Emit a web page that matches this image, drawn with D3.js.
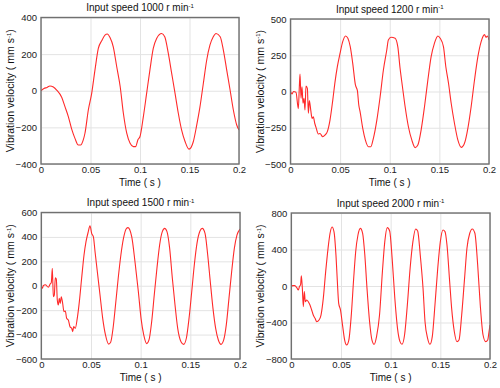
<!DOCTYPE html>
<html><head><meta charset="utf-8">
<script src="https://cdn.jsdelivr.net/npm/d3@7"></script>
<style>
html,body{margin:0;padding:0;background:#fff;}
svg{display:block;font-family:"Liberation Sans",Arial,sans-serif;}
</style></head>
<body>
<svg id="chart" width="500" height="388"></svg>
<script>
// ---- data ----
const speeds = [1000, 1200, 1500, 2000];
const xTicks = [0, 0.05, 0.1, 0.15, 0.2];
const xTickLabels = ["0", "0.05", "0.1", "0.15", "0.2"];
const yTicks1000 = [-400, -200, 0, 200, 400];
const yTicks1200 = [-500, -250, 0, 250, 500];
const yTicks1500 = [-600, -400, -200, 0, 200, 400, 600];
const yTicks2000 = [-800, -400, 0, 400, 800];

// [time (s), vibration velocity (mm/s)]
const speed1000 = [[0,0],[0.003,12],[0.006,18],[0.009,26],[0.0125,20],[0.0158,4],[0.0209,-36],[0.0242,-87],[0.0276,-141],[0.031,-210],[0.0343,-260],[0.0377,-296],[0.040,-296],[0.0427,-268],[0.0444,-232],[0.0478,-105],[0.0512,-14],[0.0545,113],[0.0579,231],[0.0613,273],[0.0646,304],[0.067,310],[0.0697,291],[0.073,240],[0.0765,131],[0.080,22],[0.0832,-123],[0.0866,-232],[0.090,-287],[0.0933,-305],[0.0955,-305],[0.098,-266],[0.1,-250],[0.1034,-141],[0.1067,-14],[0.110,113],[0.1134,231],[0.1168,286],[0.1219,313],[0.125,295],[0.1286,204],[0.132,95],[0.1354,-14],[0.1387,-123],[0.142,-214],[0.1455,-277],[0.1495,-319],[0.1539,-277],[0.157,-196],[0.1606,-87],[0.164,41],[0.1674,168],[0.1707,250],[0.174,295],[0.1768,313],[0.181,295],[0.1842,222],[0.1876,113],[0.191,4],[0.1943,-105],[0.1977,-187],[0.2,-214]];

const speed1200 = [[0,0],[0.0015,-17],[0.003,0],[0.0055,-5],[0.0079,-118],[0.0089,33],[0.0096,121],[0.0106,-47],[0.0116,33],[0.0126,-81],[0.0136,-47],[0.0146,-128],[0.0156,38],[0.017,22],[0.018,-150],[0.019,-63],[0.0204,-128],[0.0217,-185],[0.023,-175],[0.0244,-219],[0.0257,-247],[0.028,-293],[0.0297,-290],[0.0325,-312],[0.0348,-300],[0.0371,-277],[0.0398,-197],[0.0426,-59],[0.0449,68],[0.0472,171],[0.0499,263],[0.0526,344],[0.0555,383],[0.0578,367],[0.0602,309],[0.0627,194],[0.0654,45],[0.0674,6],[0.0688,-93],[0.0701,-139],[0.0728,-254],[0.0754,-334],[0.0785,-381],[0.0809,-381],[0.0835,-323],[0.087,-197],[0.0903,-36],[0.0936,148],[0.097,286],[0.0986,355],[0.1014,374],[0.1054,367],[0.1081,309],[0.1104,160],[0.1128,33],[0.1155,-105],[0.1188,-243],[0.1222,-334],[0.1256,-387],[0.1283,-369],[0.1316,-266],[0.135,-105],[0.1384,79],[0.1417,240],[0.145,332],[0.1485,383],[0.1508,367],[0.1541,309],[0.1565,171],[0.1592,57],[0.1619,-81],[0.1652,-219],[0.1686,-334],[0.172,-385],[0.1753,-357],[0.1787,-254],[0.182,-105],[0.1854,79],[0.1888,240],[0.1921,344],[0.1955,392],[0.197,374],[0.1985,383],[0.2,355]];

const speed1500 = [[0,-8],[0.001,-21],[0.002,0],[0.004,8],[0.0071,-12],[0.0088,12],[0.0101,28],[0.0111,143],[0.0121,-90],[0.0131,-76],[0.0141,66],[0.0151,55],[0.0161,-117],[0.0171,-158],[0.0181,-103],[0.0191,-144],[0.0201,-90],[0.0215,-144],[0.0228,-212],[0.0242,-207],[0.0255,-267],[0.0272,-281],[0.0289,-335],[0.0306,-349],[0.0316,-376],[0.0326,-335],[0.0342,-349],[0.0362,-267],[0.0383,-130],[0.0406,61],[0.043,252],[0.045,361],[0.0473,443],[0.049,492],[0.0507,429],[0.0524,402],[0.0541,279],[0.0564,115],[0.0591,-76],[0.0618,-267],[0.0646,-403],[0.0678,-478],[0.0698,-463],[0.0722,-349],[0.0747,-158],[0.0774,61],[0.0801,252],[0.0827,388],[0.0858,470],[0.0872,476],[0.091,402],[0.0943,197],[0.0977,-49],[0.1004,-267],[0.1031,-403],[0.1061,-474],[0.1084,-444],[0.1111,-294],[0.1137,-76],[0.1164,143],[0.1191,334],[0.1218,443],[0.1242,470],[0.1265,443],[0.1292,306],[0.1319,61],[0.1346,-158],[0.1373,-349],[0.1406,-458],[0.1433,-480],[0.146,-430],[0.1487,-267],[0.1514,-49],[0.154,170],[0.1567,347],[0.1597,448],[0.162,470],[0.1648,429],[0.1675,252],[0.1701,33],[0.1728,-185],[0.1755,-349],[0.1782,-444],[0.1809,-480],[0.1836,-444],[0.1862,-321],[0.1889,-103],[0.1916,115],[0.1943,306],[0.197,416],[0.2,465]];

const speed2000 = [[0,-7],[0.0015,4],[0.0035,4],[0.0055,-18],[0.0071,-44],[0.0082,-7],[0.0094,18],[0.0101,113],[0.0111,-22],[0.0121,-226],[0.0131,-62],[0.0141,-172],[0.0155,-154],[0.0171,-172],[0.0188,-208],[0.0205,-263],[0.0221,-318],[0.0239,-354],[0.0256,-391],[0.0279,-373],[0.0299,-318],[0.0322,-135],[0.0346,157],[0.037,413],[0.039,578],[0.041,647],[0.043,594],[0.045,330],[0.0463,60],[0.0477,-190],[0.0495,-262],[0.0517,-440],[0.0537,-592],[0.0557,-645],[0.0579,-592],[0.0603,-330],[0.0628,84],[0.0648,376],[0.0671,559],[0.0695,632],[0.0718,578],[0.074,340],[0.0762,-26],[0.0788,-391],[0.0812,-592],[0.0835,-639],[0.0858,-555],[0.0888,-318],[0.0917,157],[0.0941,486],[0.0966,640],[0.099,603],[0.1015,303],[0.1042,-135],[0.1069,-464],[0.1094,-610],[0.1114,-639],[0.114,-537],[0.1168,-208],[0.1196,194],[0.1224,486],[0.1252,625],[0.1272,603],[0.1298,340],[0.1326,-26],[0.1346,-391],[0.1372,-574],[0.1396,-639],[0.1419,-555],[0.1446,-208],[0.1474,194],[0.15,486],[0.1527,614],[0.1547,596],[0.1567,449],[0.1594,47],[0.1614,-245],[0.1641,-501],[0.1668,-610],[0.1688,-592],[0.1715,-318],[0.1744,84],[0.1768,413],[0.1796,578],[0.1822,625],[0.1848,578],[0.1876,230],[0.1902,-208],[0.193,-537],[0.1957,-610],[0.1977,-592],[0.199,-501],[0.2,-428]];

// ---- layout (positions kept separate from data) ----
const panels = [
  {speed: speeds[0], data: speed1000, yTicks: yTicks1000, x0: 41,    x1: 239, y0: 17.5, y1: 164},
  {speed: speeds[1], data: speed1200, yTicks: yTicks1200, x0: 290.5, x1: 489, y0: 19,   y1: 164},
  {speed: speeds[2], data: speed1500, yTicks: yTicks1500, x0: 41.3,  x1: 240, y0: 212.5,y1: 359},
  {speed: speeds[3], data: speed2000, yTicks: yTicks2000, x0: 291.3, x1: 490, y0: 213,  y1: 359}
];

const svg = d3.select("#chart");
const FS = 10;

panels.forEach(p => {
  const yMin = d3.min(p.yTicks), yMax = d3.max(p.yTicks);
  const x = d3.scaleLinear().domain([0, 0.2]).range([p.x0, p.x1]);
  const y = d3.scaleLinear().domain([yMin, yMax]).range([p.y1, p.y0]);
  const g = svg.append("g");

  // grid
  g.append("g").attr("transform", `translate(0,${p.y1})`)
    .call(d3.axisBottom(x).tickValues(xTicks).tickSize(-(p.y1 - p.y0)).tickFormat(""))
    .call(a => a.select(".domain").remove())
    .call(a => a.selectAll("line").attr("stroke", "#e3e3e3").attr("stroke-width", 1));
  g.append("g").attr("transform", `translate(${p.x0},0)`)
    .call(d3.axisLeft(y).tickValues(p.yTicks).tickSize(-(p.x1 - p.x0)).tickFormat(""))
    .call(a => a.select(".domain").remove())
    .call(a => a.selectAll("line").attr("stroke", "#e3e3e3").attr("stroke-width", 1));

  // tick labels via axes
  g.append("g").attr("transform", `translate(0,${p.y1})`)
    .call(d3.axisBottom(x).tickValues(xTicks).tickSize(0).tickPadding(2)
      .tickFormat((d, i) => xTickLabels[i]))
    .call(a => a.select(".domain").remove())
    .call(a => a.selectAll("text").attr("font-size", 9.5).attr("fill", "#222")
      .attr("font-family", "Liberation Sans, Arial, sans-serif"));
  g.append("g").attr("transform", `translate(${p.x0},0)`)
    .call(d3.axisLeft(y).tickValues(p.yTicks).tickSize(0).tickPadding(4).tickFormat(d3.format("d")))
    .call(a => a.select(".domain").remove())
    .call(a => a.selectAll("text").attr("font-size", 9.5).attr("fill", "#222")
      .attr("font-family", "Liberation Sans, Arial, sans-serif"));

  // line
  const clipId = "clip" + p.speed;
  g.append("clipPath").attr("id", clipId).append("rect")
    .attr("x", p.x0).attr("y", p.y0).attr("width", p.x1 - p.x0).attr("height", p.y1 - p.y0);
  g.append("path").datum(p.data)
    .attr("clip-path", `url(#${clipId})`)
    .attr("fill", "none").attr("stroke", "#ff2a2a").attr("stroke-width", 1.1)
    .attr("stroke-linejoin", "round")
    .attr("d", d3.line().x(d => x(d[0])).y(d => y(d[1])).curve(d3.curveMonotoneX));

  // frame
  g.append("rect").attr("x", p.x0).attr("y", p.y0)
    .attr("width", p.x1 - p.x0).attr("height", p.y1 - p.y0)
    .attr("fill", "none").attr("stroke", "#707070").attr("stroke-width", 1.4);

  // title
  const cx = (p.x0 + p.x1) / 2;
  const t = g.append("text").attr("x", cx).attr("y", p.y0 - 6.5)
    .attr("text-anchor", "middle").attr("font-size", FS).attr("fill", "#111");
  t.append("tspan").text(`Input speed ${p.speed} r min`);
  t.append("tspan").attr("dy", -3.5).attr("font-size", 6).text("-1");

  // x label
  g.append("text").attr("x", cx).attr("y", p.y1 + 22)
    .attr("text-anchor", "middle").attr("font-size", FS).attr("fill", "#111")
    .text("Time ( s )");

  // y label
  const cy = (p.y0 + p.y1) / 2;
  const yl = g.append("text")
    .attr("transform", `translate(${p.x0 - 27},${cy}) rotate(-90)`)
    .attr("text-anchor", "middle").attr("font-size", FS + 0.5).attr("fill", "#111");
  yl.append("tspan").text("Vibration velocity ( mm s");
  yl.append("tspan").attr("dy", -3.5).attr("font-size", 6).text("-1");
  yl.append("tspan").attr("dy", 3.5).text(")");
});
</script>
</body></html>
